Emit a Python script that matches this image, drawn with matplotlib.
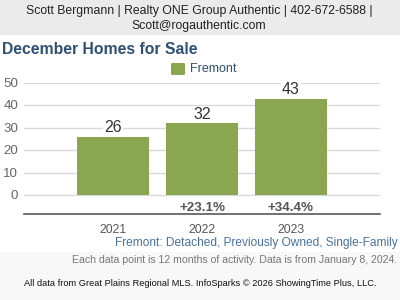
import matplotlib
matplotlib.use("Agg")
import matplotlib.pyplot as plt
from matplotlib.patches import Rectangle, FancyBboxPatch

years = ["2021", "2022", "2023"]
homes = [26, 32, 43]
changes = ["", "+23.1%", "+34.4%"]
yticks = [0, 10, 20, 30, 40, 50]

plt.rcParams["font.family"] = ["Liberation Sans", "DejaVu Sans"]

W, H = 400, 300
fig = plt.figure(figsize=(4, 3), dpi=100)
fig.patch.set_facecolor("#f8f8f8")


def fx(px):
    return px / W


def fy(py):
    return 1 - py / H


# white panel and grey header band
fig.patches.append(Rectangle((0, fy(252)), 1, fy(35) - fy(252), transform=fig.transFigure,
                             facecolor="white", edgecolor="none", zorder=-2))
fig.patches.append(Rectangle((0, fy(35)), 1, fy(0) - fy(35), transform=fig.transFigure,
                             facecolor="#ebebeb", edgecolor="none", zorder=-2))

fig.text(fx(199), fy(11), "Scott Bergmann | Realty ONE Group Authentic | 402-672-6588 |",
         ha="center", va="center", fontsize=8.8, color="#222222")
fig.text(fx(199), fy(26), "Scott@rogauthentic.com",
         ha="center", va="center", fontsize=8.8, color="#222222")

fig.text(fx(2), fy(50), "December Homes for Sale", ha="left", va="center",
         fontsize=11.3, fontweight="bold", color="#2f5075")

# legend
fig.patches.append(FancyBboxPatch((fx(171), fy(75)), fx(14), fy(63) - fy(75),
                                  boxstyle="round,pad=0,rounding_size=0.004",
                                  transform=fig.transFigure, facecolor="#8aa650",
                                  edgecolor="none"))
fig.text(fx(190), fy(69), "Fremont", ha="left", va="center", fontsize=9.0, color="#2f4f73")

# plot area: x 24..380, y 83 (=50) .. 214 (bottom line)
ax = fig.add_axes([fx(24), fy(214), fx(356), fy(83) - fy(214)])
ax.set_facecolor("none")
ax.set_xlim(-1.0, 3.0)
ax.set_ylim(-8.5, 50)
for t in yticks:
    ax.axhline(t, color="#d9d9d9", linewidth=1, zorder=1)
x = list(range(len(years)))
ax.bar(x, homes, width=0.81, color="#8aa650", zorder=2)
for xi, v in zip(x, homes):
    ax.text(xi, v + 0.6, str(v), ha="center", va="bottom", fontsize=11.5,
            color="#333333", zorder=3,
            bbox=dict(facecolor="white", edgecolor="none", pad=1))
for xi, c in zip(x, changes):
    if c:
        ax.text(xi, -5.6, c, ha="center", va="center", fontsize=9.6,
                fontweight="bold", color="#555555")
ax.set_xticks(x)
ax.set_xticklabels(years, fontsize=8.8, color="#555555")
ax.tick_params(axis="x", length=0, pad=7)
ax.set_yticks([])
for s in ["top", "right", "left"]:
    ax.spines[s].set_visible(False)
ax.spines["bottom"].set_color("#666666")
ax.spines["bottom"].set_linewidth(1.3)

for t in yticks:
    fig.text(fx(18), fy(196 - t * 2.24), str(t), ha="right", va="center",
             fontsize=9.6, color="#666666")

fig.text(fx(398), fy(243), "Fremont: Detached, Previously Owned, Single-Family",
         ha="right", va="center", fontsize=8.6, color="#4a72a0")
fig.text(fx(397), fy(260), "Each data point is 12 months of activity. Data is from January 8, 2024.",
         ha="right", va="center", fontsize=7.6, color="#777777")
fig.text(fx(200), fy(283),
         "All data from Great Plains Regional MLS. InfoSparks \u00a9 2026 ShowingTime Plus, LLC.",
         ha="center", va="center", fontsize=6.7, color="#111111")

fig.savefig("out.png", dpi=100, facecolor=fig.get_facecolor())
